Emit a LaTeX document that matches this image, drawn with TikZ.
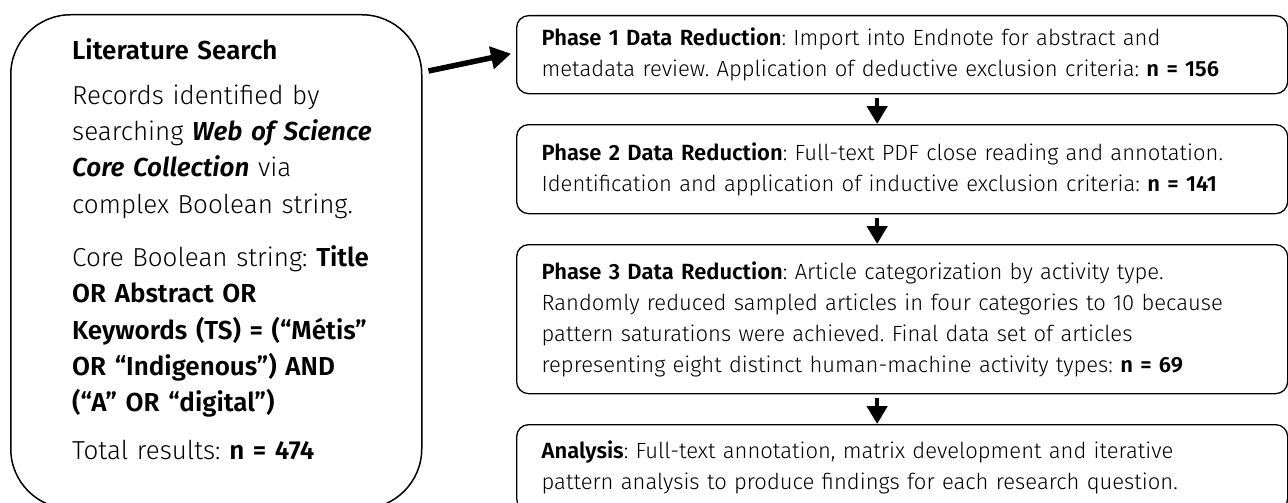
\documentclass[tikz,border=0pt]{standalone}
\usepackage{fontspec}
\setmainfont{Fira Sans}[UprightFont=* Light, BoldFont=* SemiBold, ItalicFont=* Light Italic, BoldItalicFont=* SemiBold Italic]
\usetikzlibrary{arrows.meta}

\begin{document}
\frenchspacing
\begin{tikzpicture}[x=1pt,y=1pt,
	searchbox/.style={draw, line width=1.5pt, rounded corners=60pt, anchor=north west, minimum width=411pt, minimum height=494pt},
	searchtext/.style={anchor=north west, inner sep=0pt, text width=349pt, align=left, font=\fontsize{26}{36.3}\selectfont},
	phasebox/.style={draw, line width=1.3pt, rounded corners=12pt, anchor=north west, text width=721pt, inner xsep=25pt, align=left, font=\fontsize{22}{31}\selectfont},
	flow/.style={line width=4.5pt, -{Triangle[width=20pt,length=18pt]}}]
				\useasboundingbox (0,0) rectangle (1288,-503);
				\node[searchbox, at={(10,-14)}] (search) {};
				\node[searchtext, at={(72,-38)}] (query) {\textbf{Literature Search}\\[9pt]
					Records identified by\\
					searching \textbf{\textit{Web of Science}}\\
					\textbf{\textit{Core Collection}} via\\
					complex Boolean string.\\[17pt]
					Core Boolean string: \textbf{Title}\\
					\textbf{OR Abstract OR}\\
					\textbf{Keywords (TS) = (“Métis”}\\
					\textbf{OR “Indigenous”) AND}\\
					\textbf{(“A” OR “digital”)}\\[11pt]
					Total results: \textbf{n = 474}};
				\node[phasebox, minimum height=78pt, at={(516,-15)}] (red1) {\textbf{Phase 1 Data Reduction}: Import into Endnote for abstract and\\
					metadata review. Application of deductive exclusion criteria: \textbf{n = 156}};
				\node[phasebox, minimum height=89pt, at={(516,-124)}] (red2) {\textbf{Phase 2 Data Reduction}: Full-text PDF close reading and annotation.\\
					Identification and application of inductive exclusion criteria: \textbf{n = 141}};
				\node[phasebox, minimum height=149pt, at={(516,-244)}] (red3) {\textbf{Phase 3 Data Reduction}: Article categorization by activity type.\\
					Randomly reduced sampled articles in four categories to 10 because\\
					pattern saturations were achieved. Final data set of articles\\
					representing eight distinct human-machine activity types: \textbf{n = 69}};
				\node[phasebox, minimum height=86pt, at={(516,-424)}] (ana) {\textbf{Analysis}: Full-text annotation, matrix development and iterative\\
					pattern analysis to produce findings for each research question.};
				% search feeds the first reduction
				\draw[line width=5.5pt, -{Triangle[width=22pt,length=20pt]}] ([xshift=6pt,yshift=-57pt]search.north east)--([xshift=-5pt,yshift=1pt]red1.west);
				\draw[flow] ([xshift=-25pt,yshift=-4pt]red1.south)--([xshift=-25pt]red2.north);
				\draw[flow] ([xshift=-25pt,yshift=-4pt]red2.south)--([xshift=-25pt]red3.north);
				\draw[flow] ([xshift=-25pt,yshift=-4pt]red3.south)--([xshift=-25pt]ana.north);
				\end{tikzpicture}
\end{document}
